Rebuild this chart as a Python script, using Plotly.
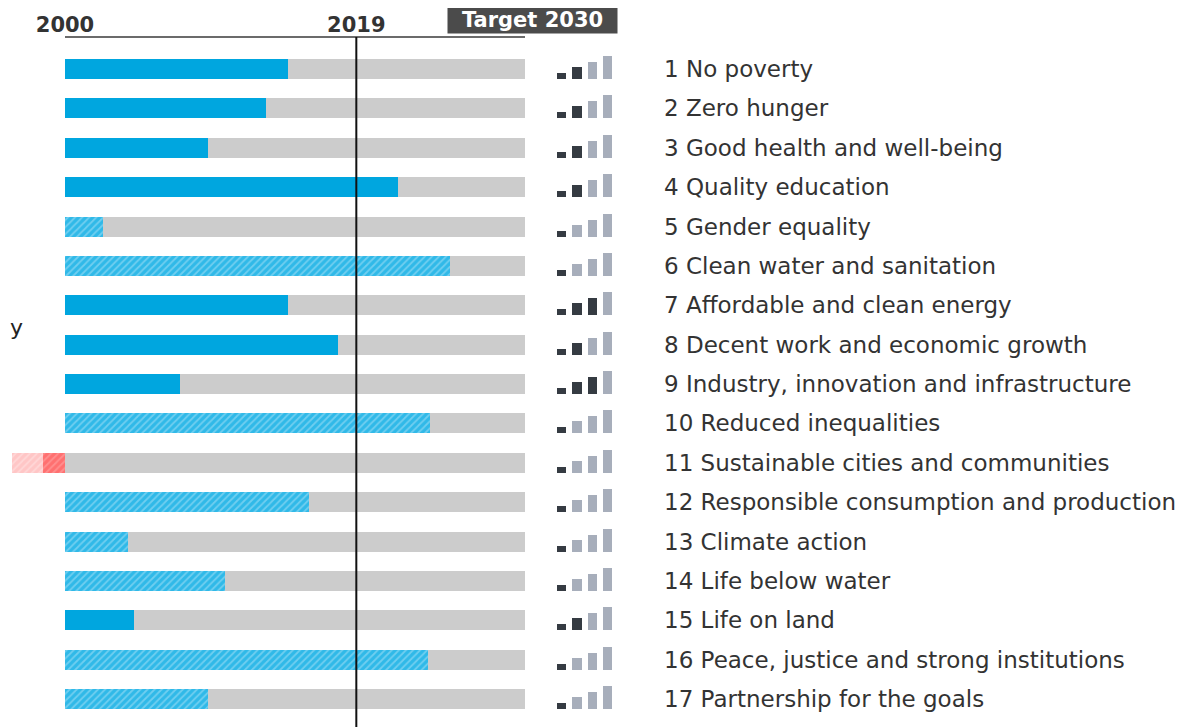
import plotly.graph_objects as go

# ---------------- data ----------------
goals = [
    "1 No poverty", "2 Zero hunger", "3 Good health and well-being",
    "4 Quality education", "5 Gender equality", "6 Clean water and sanitation",
    "7 Affordable and clean energy", "8 Decent work and economic growth",
    "9 Industry, innovation and infrastructure", "10 Reduced inequalities",
    "11 Sustainable cities and communities",
    "12 Responsible consumption and production", "13 Climate action",
    "14 Life below water", "15 Life on land",
    "16 Peace, justice and strong institutions", "17 Partnership for the goals",
]
# progress towards the 2030 target (% of the 2000-2030 path)
progress = [48.5, 43.7, 31.1, 72.4, 8.3, 83.7, 48.5, 59.3, 25.0, 79.3,
            None, 53.0, 13.7, 34.8, 15.0, 78.9, 31.1]
# hatched = insufficient data
hatched = [False, False, False, False, True, True, False, False, False, True,
           True, True, True, True, False, True, True]
# goal 11 moved away from the target
regress_goal = 11
regress_outer = -11.5
regress_inner = -4.8
# signal-strength icon level (1-4)
levels = [2, 2, 2, 2, 1, 1, 3, 2, 3, 1, 1, 1, 1, 1, 2, 1, 1]

year_ticks = [0, 63.33]
year_labels = ["2000", "2019"]
target_label = "Target 2030"

# ---------------- styles ----------------
OFF = 8                       # page body margin
W, H = 1203 - OFF, 727 - OFF  # figure size
TOP = 37 - OFF
ROW1 = 69 - OFF
X0 = 65 - OFF                 # pixel of 0 %
X100 = 525 - OFF              # pixel of 100 %
GRAY = "#cccccc"
BLUE = "#00a6df"
DARK = "#353b42"
LIGHT = "#a7aebb"
TEXT = "#333333"
FONT = "DejaVu Sans"
BAR_W = 0.508
icon_px = [6, 12, 17, 23]
row_px = 39.375

rows = list(range(1, len(goals) + 1))

fig = go.Figure()

# full-length gray track
fig.add_trace(go.Bar(orientation="h", y=rows, x=[100] * len(rows), base=0,
                     width=BAR_W, marker=dict(color=GRAY, line=dict(width=0)),
                     hoverinfo="skip", showlegend=False))

# solid progress
ys = [r for r, p, h in zip(rows, progress, hatched) if p is not None and not h]
xs = [p for p, h in zip(progress, hatched) if p is not None and not h]
fig.add_trace(go.Bar(orientation="h", y=ys, x=xs, base=0, width=BAR_W,
                     marker=dict(color=BLUE, line=dict(width=0)),
                     showlegend=False))

# hatched progress
ys = [r for r, p, h in zip(rows, progress, hatched) if p is not None and h]
xs = [p for p, h in zip(progress, hatched) if p is not None and h]
fig.add_trace(go.Bar(orientation="h", y=ys, x=xs, base=0, width=BAR_W,
                     marker=dict(color="#30b9e8", line=dict(width=0),
                                 pattern=dict(shape="/", bgcolor="#30b9e8",
                                              fgcolor="#aee4f7", size=5,
                                              solidity=0.35)),
                     showlegend=False))

# regression (red)
fig.add_trace(go.Bar(orientation="h", y=[regress_goal],
                     x=[regress_inner - regress_outer], base=[regress_outer],
                     width=BAR_W,
                     marker=dict(color="#ffc6c6", line=dict(width=0),
                                 pattern=dict(shape="/", bgcolor="#ffc6c6",
                                              fgcolor="#ffe6e6", size=5,
                                              solidity=0.35)),
                     showlegend=False))
fig.add_trace(go.Bar(orientation="h", y=[regress_goal], x=[0 - regress_inner],
                     base=[regress_inner], width=BAR_W,
                     marker=dict(color="#ff7070", line=dict(width=0),
                                 pattern=dict(shape="/", bgcolor="#ff7070",
                                              fgcolor="#ffacac", size=5,
                                              solidity=0.35)),
                     showlegend=False))

# signal icons
dark_x, dark_b, dark_y, light_x, light_b, light_y = [], [], [], [], [], []
for r, lv in zip(rows, levels):
    bottom = r + BAR_W / 2
    for k in range(4):
        h = icon_px[k] / row_px
        if k < lv:
            dark_x.append(k); dark_b.append(bottom); dark_y.append(-h)
        else:
            light_x.append(k); light_b.append(bottom); light_y.append(-h)
fig.add_trace(go.Bar(x=dark_x, y=dark_y, base=dark_b, width=0.62,
                     xaxis="x2", yaxis="y",
                     marker=dict(color=DARK, line=dict(width=0)),
                     showlegend=False, hoverinfo="skip"))
fig.add_trace(go.Bar(x=light_x, y=light_y, base=light_b, width=0.62,
                     xaxis="x2", yaxis="y",
                     marker=dict(color=LIGHT, line=dict(width=0)),
                     showlegend=False, hoverinfo="skip"))

y_top = 1 - (ROW1 - TOP) / row_px
y_bot = 1 + (H - ROW1) / row_px
x_left = -X0 / (X100 - X0) * 100

fig.update_layout(
    width=W, height=H,
    margin=dict(l=0, r=0, t=TOP, b=0),
    paper_bgcolor="white", plot_bgcolor="white",
    barmode="overlay",
    bargap=0,
    font=dict(family=FONT, color=TEXT),
    xaxis=dict(domain=[0, X100 / W], range=[x_left, 100], side="top",
               tickvals=year_ticks, ticktext=year_labels, ticks="",
               tickfont=dict(family=FONT, size=21, color=TEXT, weight="bold"),
               showgrid=False, zeroline=False, showline=False, fixedrange=True),
    xaxis2=dict(domain=[(553.5 - OFF) / W, (614.7 - OFF) / W], range=[-0.5, 3.5],
                anchor="y", visible=False, fixedrange=True),
    yaxis=dict(range=[y_bot, y_top], side="right", anchor="free",
               position=(663 - OFF) / W, tickvals=rows, ticktext=goals,
               ticks="",
               tickfont=dict(family=FONT, size=23, color=TEXT),
               showgrid=False, zeroline=False, showline=False, fixedrange=True),
    shapes=[
        dict(type="line", xref="x", yref="paper", x0=0, x1=100, y0=1, y1=1,
             line=dict(color="#3a3a3a", width=1.5)),
        dict(type="line", xref="x", yref="paper", x0=year_ticks[1],
             x1=year_ticks[1], y0=0, y1=1, line=dict(color="#111111", width=2)),
    ],
    annotations=[
        dict(text="<b>" + target_label + "</b>", xref="paper", yref="paper",
             x=(532.5 - OFF) / W, y=1 + (TOP - (20 - OFF)) / (H - TOP),
             xanchor="center", yanchor="middle", showarrow=False,
             bgcolor="#4b4b4b",
             font=dict(family=FONT, size=21, color="white"),
             width=165, height=22, borderpad=2),
        dict(text="y", xref="paper", yref="paper", x=0,
             y=1 - (327 - OFF - TOP) / (H - TOP), xanchor="left",
             yanchor="middle", showarrow=False,
             font=dict(family=FONT, size=22, color="#222222")),
    ],
)

fig.write_html("out.html")
